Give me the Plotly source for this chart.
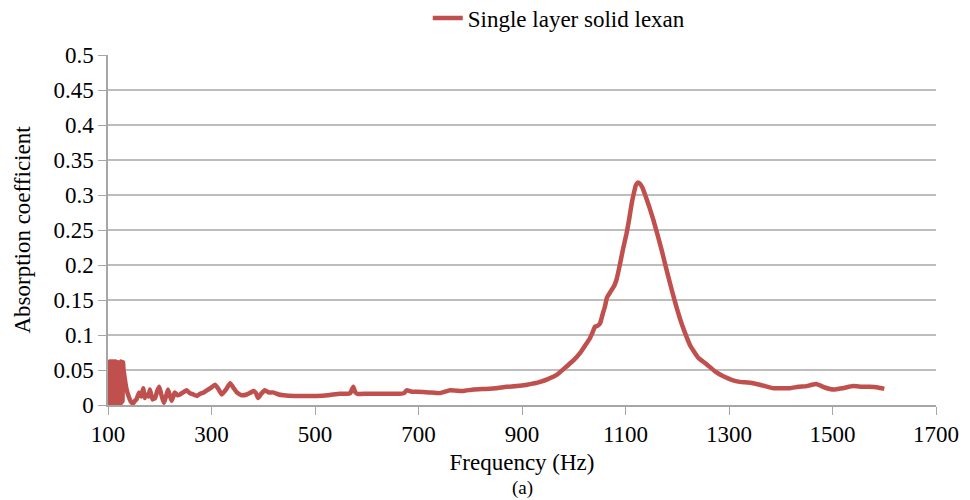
import plotly.graph_objects as go

freq = [100, 101, 102, 103, 104, 105, 106, 107, 108, 109, 110, 111, 112, 113, 114, 115, 116, 117, 118, 119, 120,
        121, 122, 123, 124, 125, 126, 127, 128, 129, 130, 132, 134, 136, 140, 144, 148, 152, 155, 160, 164, 168,
        171, 174, 178, 181, 186, 191, 195, 199, 204, 208, 212, 216, 220, 223, 226, 229, 234, 239, 245, 252, 258,
        265, 272, 278, 285, 291, 298, 307, 314, 320, 328, 336, 342, 349, 358, 368, 374, 381, 386, 390, 396, 403,
        410, 419, 430, 439, 460, 480, 503, 525, 548, 561, 568, 574, 578, 582, 600, 632, 650, 664, 672, 677, 687,
        697, 720, 742, 761, 785, 806, 830, 850, 870, 890, 910, 935, 950, 967, 986, 1000, 1012, 1022, 1031, 1036,
        1041, 1046, 1051, 1056, 1060, 1064, 1067, 1072, 1078, 1083, 1089, 1095, 1102, 1107, 1112, 1116, 1120,
        1124, 1128, 1133, 1138, 1146, 1154, 1162, 1170, 1178, 1186, 1195, 1205, 1215, 1225, 1240, 1257, 1273,
        1289, 1305, 1321, 1337, 1353, 1370, 1386, 1402, 1418, 1434, 1450, 1460, 1469, 1485, 1502, 1520, 1540,
        1556, 1572, 1588, 1600]
absorption = [0.0, 0.06, 0.002, 0.062, 0.0, 0.058, 0.004, 0.062, 0.0, 0.06, 0.002, 0.062, 0.0, 0.058, 0.003,
              0.062, 0.0, 0.06, 0.002, 0.061, 0.0, 0.06, 0.003, 0.058, 0.0, 0.062, 0.004, 0.06, 0.005, 0.061,
              0.05, 0.04, 0.03, 0.022, 0.012, 0.005, 0.002, 0.006, 0.008, 0.018, 0.012, 0.024, 0.01, 0.015,
              0.012, 0.022, 0.008, 0.01, 0.02, 0.026, 0.012, 0.003, 0.012, 0.022, 0.012, 0.006, 0.012, 0.018,
              0.014, 0.015, 0.018, 0.021, 0.017, 0.015, 0.013, 0.016, 0.018, 0.021, 0.024, 0.029, 0.022, 0.015,
              0.022, 0.031, 0.025, 0.018, 0.014, 0.015, 0.017, 0.02, 0.017, 0.01, 0.016, 0.021, 0.018, 0.018,
              0.015, 0.014, 0.013, 0.013, 0.013, 0.014, 0.016, 0.016, 0.017, 0.026, 0.018, 0.016, 0.016, 0.016,
              0.016, 0.016, 0.017, 0.021, 0.019, 0.019, 0.018, 0.017, 0.021, 0.02, 0.022, 0.023, 0.024, 0.026,
              0.027, 0.029, 0.033, 0.037, 0.043, 0.055, 0.064, 0.074, 0.085, 0.095, 0.103, 0.112, 0.113, 0.117,
              0.13, 0.14, 0.153, 0.157, 0.163, 0.17, 0.18, 0.2, 0.222, 0.245, 0.265, 0.288, 0.302, 0.314, 0.318,
              0.316, 0.31, 0.3, 0.283, 0.264, 0.243, 0.221, 0.197, 0.174, 0.149, 0.124, 0.103, 0.085, 0.068,
              0.058, 0.048, 0.041, 0.036, 0.033, 0.032, 0.03, 0.027, 0.024, 0.024, 0.024, 0.026, 0.027, 0.029,
              0.03, 0.025, 0.022, 0.024, 0.027, 0.026, 0.026, 0.025, 0.023]

x_ticks = [100, 300, 500, 700, 900, 1100, 1300, 1500, 1700]
y_ticks = [0, 0.05, 0.1, 0.15, 0.2, 0.25, 0.3, 0.35, 0.4, 0.45, 0.5]
y_labels = ["0", "0.05", "0.1", "0.15", "0.2", "0.25", "0.3", "0.35", "0.4", "0.45", "0.5"]

font_family = "Times New Roman, Liberation Serif, serif"
red = "#C0504D"

fig = go.Figure()
fig.add_trace(go.Scatter(
    x=freq, y=absorption, mode="lines", name="Single layer solid lexan",
    line=dict(color=red, width=4.5, shape="spline", smoothing=0.4),
))

fig.update_layout(
    width=970, height=500,
    margin=dict(l=108, r=34, t=55, b=95, autoexpand=False),
    paper_bgcolor="white", plot_bgcolor="white",
    font=dict(family=font_family, size=23, color="#000000"),
    showlegend=True,
    legend=dict(orientation="h", xref="container", yref="container",
                x=0.441, xanchor="left", y=0.964, yanchor="middle",
                font=dict(size=23, family=font_family), bgcolor="rgba(0,0,0,0)"),
    xaxis=dict(
        range=[100, 1700], tickvals=x_ticks, ticktext=[str(v) for v in x_ticks],
        showgrid=False, zeroline=False, showline=True, linecolor="#A6A6A6", linewidth=1.5,
        ticks="outside", ticklen=8, tickcolor="#A6A6A6",
        tickfont=dict(size=23, family=font_family),
        title=dict(text="Frequency (Hz)", font=dict(size=23, family=font_family), standoff=8),
    ),
    yaxis=dict(
        range=[0, 0.5], tickvals=y_ticks, ticktext=y_labels,
        showgrid=True, gridcolor="#BDBDBD", gridwidth=1.5, zeroline=False,
        showline=True, linecolor="#A6A6A6", linewidth=1.5,
        ticks="outside", ticklen=8, tickcolor="#A6A6A6",
        tickfont=dict(size=23, family=font_family),
        title=dict(text="Absorption coefficient", font=dict(size=23, family=font_family), standoff=16),
    ),
)
fig.add_annotation(text="(a)", xref="paper", yref="paper", x=0.5, y=-0.2, yanchor="top",
                   showarrow=False, font=dict(size=19, family=font_family))

fig.write_html("out.html")
